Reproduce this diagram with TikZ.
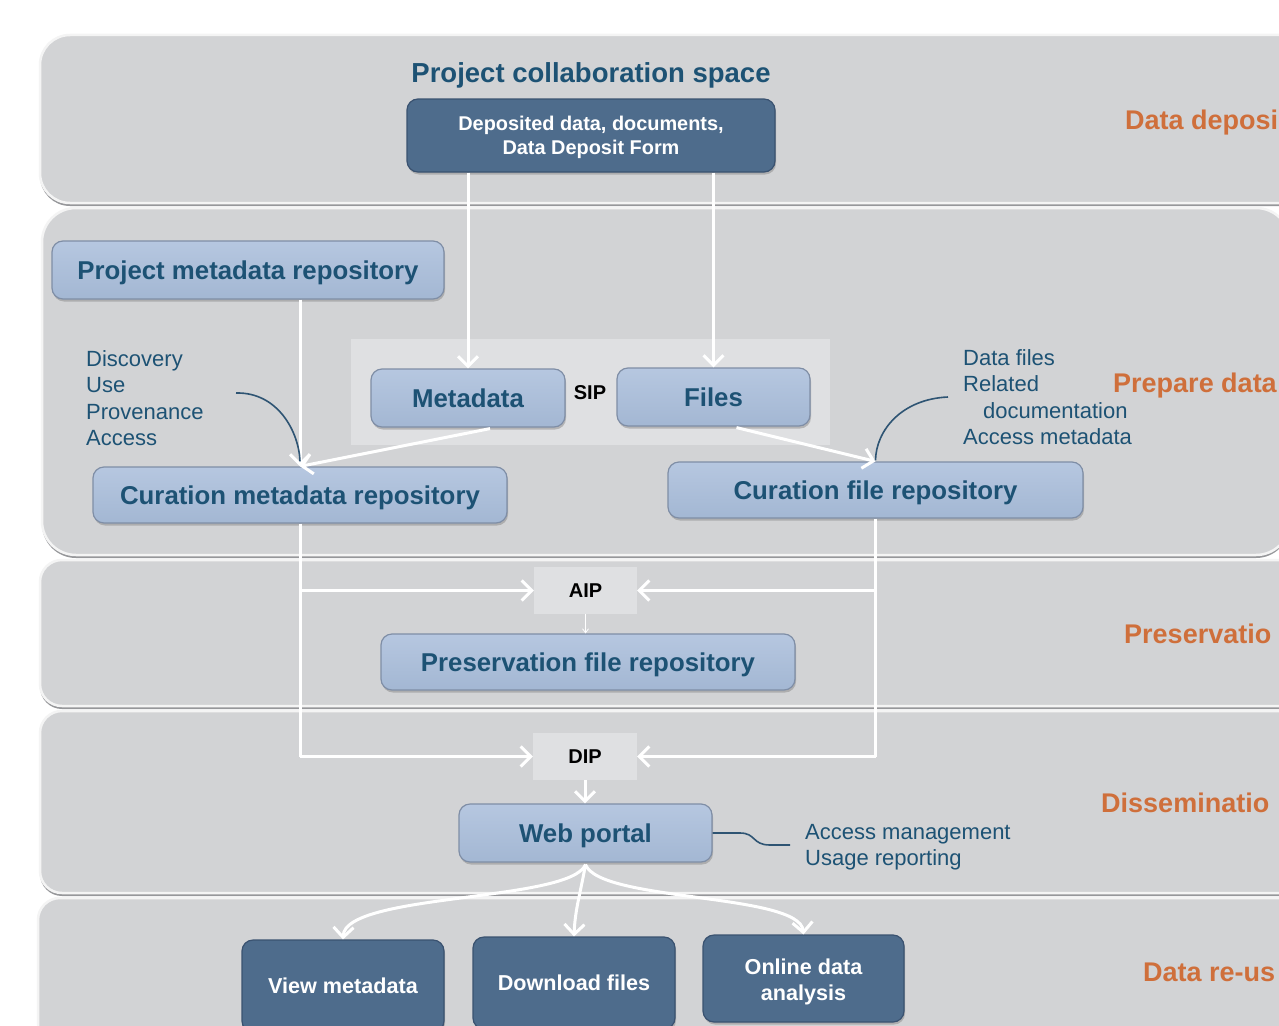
\documentclass[tikz,border=0pt]{standalone}
\usepackage{fontspec}
\setmainfont{Liberation Sans}
\usetikzlibrary{arrows.meta,shadows,calc}
\definecolor{bandfill}{HTML}{D2D3D5}
\definecolor{bandline}{HTML}{F4F4F4}
\definecolor{bandshadow}{HTML}{96979A}
\definecolor{sipbg}{HTML}{DFE0E2}
\definecolor{lboxtop}{HTML}{B6C7E0}
\definecolor{lboxbot}{HTML}{A3B7D3}
\definecolor{lboxline}{HTML}{7F8EA6}
\definecolor{darkbox}{HTML}{4E6C8C}
\definecolor{darkline}{HTML}{3A5270}
\definecolor{textblue}{HTML}{1D5274}
\definecolor{phaseorange}{HTML}{CF6F3B}
\definecolor{annotc}{HTML}{2E5473}
\tikzset{
  band/.style={fill=bandfill, draw=bandline, line width=2.5pt,
    drop shadow={shadow xshift=0pt, shadow yshift=-3pt, fill=bandshadow, opacity=1}},
  lbox/.style={draw=lboxline, line width=1.2pt, rounded corners=11pt,
    top color=lboxtop, bottom color=lboxbot, text=textblue, inner sep=0pt,
    text height=19.5pt, text depth=0pt,
    font=\bfseries\fontsize{25.8}{30}\selectfont,
    drop shadow={shadow xshift=1pt, shadow yshift=-2.5pt, opacity=0.45}},
  dbox/.style={draw=darkline, line width=1.2pt, rounded corners=11pt,
    fill=darkbox, text=white, inner sep=0pt, align=center,
    font=\bfseries\fontsize{21.6}{26.5}\selectfont,
    drop shadow={shadow xshift=1pt, shadow yshift=-2.5pt, opacity=0.45}},
  pkg/.style={fill=sipbg, inner sep=0pt, text=black,
    font=\bfseries\fontsize{20}{24}\selectfont},
  warrow/.style={draw=white, line width=3pt, -{Straight Barb[length=10pt,width=20pt]}},
  wline/.style={draw=white, line width=3pt},
  thinarrow/.style={draw=white, line width=0.8pt, -{Straight Barb[length=4pt,width=6pt]}},
  annot/.style={draw=annotc, line width=1.6pt},
  note/.style={text=textblue, font=\fontsize{22}{26.5}\selectfont, align=left,
    anchor=north west, inner sep=0pt},
  phase/.style={text=phaseorange, font=\bfseries\fontsize{27}{32}\selectfont,
    anchor=west, inner sep=0pt, text height=19.5pt, text depth=0pt},
}
\begin{document}
\begin{tikzpicture}[x=1pt,y=-1pt]
\useasboundingbox (0,0) rectangle (1279,1025);
\clip (0,0) rectangle (1279,1025);
\fill[white] (0,0) rectangle (1279,1025);

% bands
\path[band, rounded corners=30pt] (40,35) rectangle (1340,203);
\path[band, rounded corners=34pt] (42,208) rectangle (1290,555);
\path[band, rounded corners=22pt] (40,560) rectangle (1340,706);
\path[band, rounded corners=22pt] (40,711) rectangle (1340,893);
\path[band, rounded corners=22pt] (38,898) rectangle (1340,1080);

% phase labels (cut at the right edge, as in the reference)
\node[phase] (ph1) at (1125,120) {Data deposi};
\node[phase] (ph2) at (1113,383) {Prepare data};
\node[phase] (ph3) at (1124,634) {Preservatio};
\node[phase] (ph4) at (1101,803) {Disseminatio};
\node[phase] (ph5) at (1143,972) {Data re-us};

% deposit
\node[text=textblue, font=\bfseries\fontsize{27.5}{32}\selectfont, inner sep=0pt,
  text height=19.5pt, text depth=0pt]
  (pcs) at (591,73) {Project collaboration space};
\node[dbox, minimum width=368pt, minimum height=73pt,
  font=\bfseries\fontsize{19.9}{24.5}\selectfont] (dep) at (591,135.5)
  {\rule{0pt}{18pt}Deposited data, documents,\\Data Deposit Form};

% prepare
\node[lbox, minimum width=392pt, minimum height=58pt] (pmr) at (248,270) {Project metadata repository};
\fill[sipbg] (351,339) rectangle (830,445);
\node[lbox, minimum width=194pt, minimum height=58pt] (meta) at (468,398) {Metadata};
\node[lbox, minimum width=193pt, minimum height=58pt] (files) at (713.5,397) {Files};
\node[text=black, font=\bfseries\fontsize{20}{24}\selectfont, inner sep=0pt] (sip) at (590,393) {SIP};
\node[lbox, minimum width=414pt, minimum height=56pt] (cmr) at (300,495) {Curation metadata repository};
\node[lbox, minimum width=415pt, minimum height=56pt] (cfr) at (875.5,490) {Curation file repository};

\node[note] (n1) at (86,350) {Discovery\\Use\\Provenance\\Access};
\node[note] (n2) at (963,349) {Data files\\Related\\\hspace*{20pt}documentation\\Access metadata};

% preservation
\node[pkg, minimum width=103pt, minimum height=47pt] (aip) at (585.5,590.5) {AIP};
\node[lbox, minimum width=414pt, minimum height=56pt] (pfr) at (588,662) {Preservation file repository};

% dissemination
\node[pkg, minimum width=104pt, minimum height=47pt] (dip) at (585,756.5) {DIP};
\node[lbox, minimum width=253pt, minimum height=58pt] (wp) at (585.5,833) {Web portal};
\node[note] (n3) at (805,824) {Access management\\Usage reporting};

% re-use
\node[dbox, minimum width=202pt, minimum height=92pt] (vm) at (343,986) {View metadata};
\node[dbox, minimum width=202pt, minimum height=92pt] (dl) at (574,983) {Download files};
\node[dbox, minimum width=201pt, minimum height=87pt] (oda) at (803.5,978.5)
  {\rule{0pt}{22.5pt}Online data\\analysis};

% connectors
\draw[warrow] (dep.south -| meta.north) -- (meta.north);
\draw[warrow] (dep.south -| files.north) -- (files.north);
\draw[warrow] (pmr.south -| cmr.north) -- (cmr.north);
\draw[warrow] ($(meta.south)+(22,1)$) -- (cmr.north);
\draw[warrow] ($(files.south)+(23,1)$) -- (cfr.north);

\coordinate (c1) at (236,393);
\draw[annot] (c1) .. controls (278,392) and (299,432) .. ($(cmr.north)+(0,-5)$);
\coordinate (c2) at (948,397);
\draw[annot] (c2) .. controls (902,399) and (876,430) .. ($(cfr.north)+(0,-1)$);

\draw[wline] (cmr.south) -- (cmr.south |- dip.west);
\draw[warrow] (cmr.south |- dip.west) -- (dip.west);
\draw[warrow] (cmr.south |- aip.west) -- (aip.west);
\draw[wline] (cfr.south) -- (cfr.south |- dip.east);
\draw[warrow] (cfr.south |- dip.east) -- (dip.east);
\draw[warrow] (cfr.south |- aip.east) -- (aip.east);

\draw[thinarrow] (aip.south) -- (aip.south |- pfr.north);
\draw[warrow] (dip.south) -- (dip.south |- wp.north);

\coordinate (c3) at (790,845);
\draw[annot] (wp.east) -- (740,833) .. controls (756,833) and (752,845) .. (770,845) -- (c3);

\draw[warrow] ($(wp.south)+(0,2)$) .. controls (570,902) and (345,893) .. (vm.north);
\draw[warrow] ($(wp.south)+(0,2)$) .. controls (580,895) and (575,910) .. (dl.north);
\draw[warrow] ($(wp.south)+(0,2)$) .. controls (600,902) and (800,893) .. (oda.north);
\end{tikzpicture}
\end{document}
